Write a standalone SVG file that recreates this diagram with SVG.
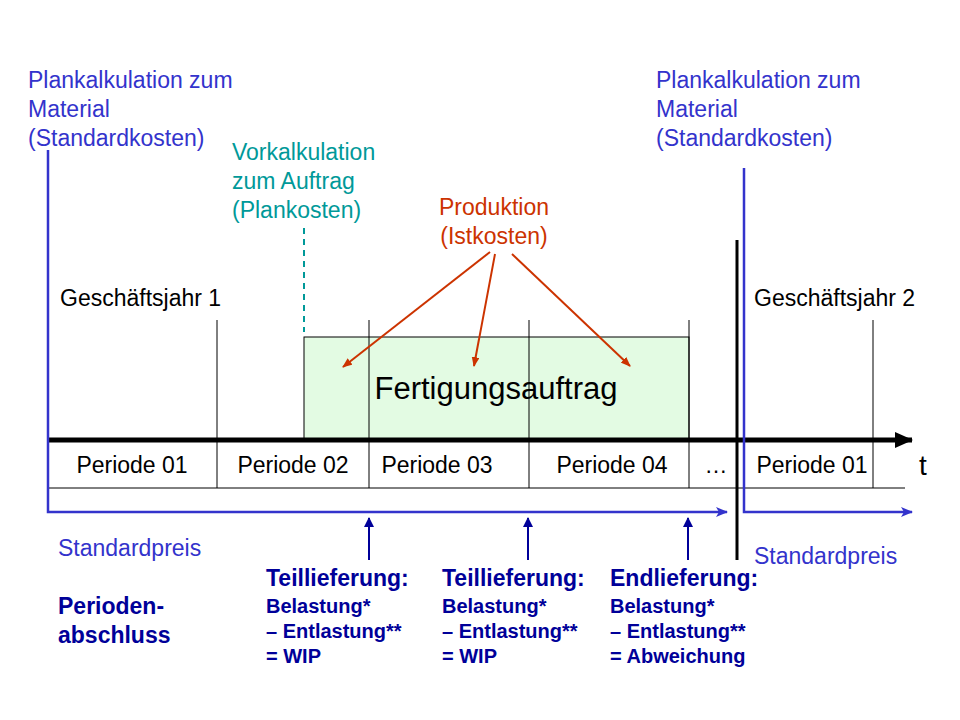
<svg xmlns="http://www.w3.org/2000/svg" width="960" height="720" viewBox="0 0 960 720">
<style>
text{font-family:"Liberation Sans",Arial,sans-serif}
.b{fill:#3333cc;font-size:23px}
.k{fill:#000;font-size:23px}
.db{fill:#000099;font-size:20px;font-weight:bold}
.dh{fill:#000099;font-size:23px;font-weight:bold}
.thin{stroke:#000;stroke-width:1}
.blue{stroke:#3333cc;stroke-width:2.5;fill:none}
.red{stroke:#cc3300;stroke-width:2;marker-end:url(#ra)}
.up{stroke:#000099;stroke-width:2;marker-end:url(#ua)}
</style>
<defs>
<marker id="ra" markerWidth="10" markerHeight="8" refX="9" refY="4" orient="auto" markerUnits="userSpaceOnUse"><path d="M0,0L10,4L0,8z" fill="#cc3300"/></marker>
<marker id="ba" markerWidth="12" markerHeight="10" refX="11" refY="5" orient="auto" markerUnits="userSpaceOnUse"><path d="M0,0L12,5L0,10L3,5z" fill="#3333cc"/></marker>
<marker id="ua" markerWidth="10" markerHeight="10" refX="9" refY="5" orient="auto" markerUnits="userSpaceOnUse"><path d="M0,0L10,5L0,10z" fill="#000099"/></marker>
<marker id="ka" markerWidth="18" markerHeight="16" refX="17" refY="8" orient="auto" markerUnits="userSpaceOnUse"><path d="M0,0L18,8L0,16z" fill="#000"/></marker>
</defs>
<rect width="960" height="720" fill="#fff"/>
<g id="auftrag">
<rect x="304" y="337" width="385" height="103" fill="#e3fbe3" stroke="#000"/>
<text x="496" y="399" text-anchor="middle" font-size="31" fill="#000">Fertigungsauftrag</text>
</g>
<g id="grid">
<line class="thin" x1="217" y1="320" x2="217" y2="488"/>
<line class="thin" x1="369" y1="320" x2="369" y2="488" stroke="#555"/>
<line class="thin" x1="529" y1="320" x2="529" y2="488" stroke="#555"/>
<line class="thin" x1="689" y1="320" x2="689" y2="488"/>
<line class="thin" x1="873" y1="320" x2="873" y2="488"/>
<line class="thin" x1="48" y1="488" x2="905" y2="488"/>
</g>
<g id="connectors">
<line x1="48" y1="440" x2="912" y2="440" stroke="#000" stroke-width="5" marker-end="url(#ka)"/>
<polyline class="blue" points="48,150 48,512 727,512" marker-end="url(#ba)"/>
<polyline class="blue" points="744,168 744,512 912,512" marker-end="url(#ba)"/>
<line x1="737" y1="240" x2="737" y2="560" stroke="#000" stroke-width="3"/>
<line x1="304" y1="228" x2="304" y2="332" stroke="#009999" stroke-width="2" stroke-dasharray="6,5"/>
<line class="red" x1="490" y1="252" x2="343" y2="367"/>
<line class="red" x1="495" y1="254" x2="474" y2="366"/>
<line class="red" x1="512" y1="254" x2="630" y2="366"/>
<line class="up" x1="369" y1="560" x2="369" y2="518"/>
<line class="up" x1="528" y1="560" x2="528" y2="518"/>
<line class="up" x1="688" y1="560" x2="688" y2="518"/>
</g>
<g id="labels">
<text class="b" x="28" y="88">Plankalkulation zum</text>
<text class="b" x="28" y="117">Material</text>
<text class="b" x="28" y="146">(Standardkosten)</text>
<text class="b" x="656" y="88">Plankalkulation zum</text>
<text class="b" x="656" y="117">Material</text>
<text class="b" x="656" y="146">(Standardkosten)</text>
<text x="232" y="160" font-size="23" fill="#009999">Vorkalkulation</text>
<text x="232" y="189" font-size="23" fill="#009999">zum Auftrag</text>
<text x="232" y="218" font-size="23" fill="#009999">(Plankosten)</text>
<text x="494" y="215" font-size="23" fill="#cc3300" text-anchor="middle">Produktion</text>
<text x="494" y="244" font-size="23" fill="#cc3300" text-anchor="middle">(Istkosten)</text>
<text class="k" x="60" y="306">Geschäftsjahr 1</text>
<text class="k" x="754" y="306">Geschäftsjahr 2</text>
<text class="k" x="132" y="473" text-anchor="middle">Periode 01</text>
<text class="k" x="293" y="473" text-anchor="middle">Periode 02</text>
<text class="k" x="437" y="473" text-anchor="middle">Periode 03</text>
<text class="k" x="612" y="473" text-anchor="middle">Periode 04</text>
<text class="k" x="716" y="473" text-anchor="middle">…</text>
<text class="k" x="812" y="473" text-anchor="middle">Periode 01</text>
<text x="919" y="475" font-size="28" fill="#000">t</text>
<text class="b" x="58" y="556">Standardpreis</text>
<text class="b" x="754" y="564">Standardpreis</text>
<text class="dh" x="58" y="614">Perioden-</text>
<text class="dh" x="58" y="643">abschluss</text>
<text class="dh" x="266" y="586">Teillieferung:</text>
<text class="db" x="266" y="613">Belastung*</text>
<text class="db" x="266" y="638">– Entlastung**</text>
<text class="db" x="266" y="663">= WIP</text>
<text class="dh" x="442" y="586">Teillieferung:</text>
<text class="db" x="442" y="613">Belastung*</text>
<text class="db" x="442" y="638">– Entlastung**</text>
<text class="db" x="442" y="663">= WIP</text>
<text class="dh" x="610" y="586">Endlieferung:</text>
<text class="db" x="610" y="613">Belastung*</text>
<text class="db" x="610" y="638">– Entlastung**</text>
<text class="db" x="610" y="663">= Abweichung</text>
</g>
</svg>
